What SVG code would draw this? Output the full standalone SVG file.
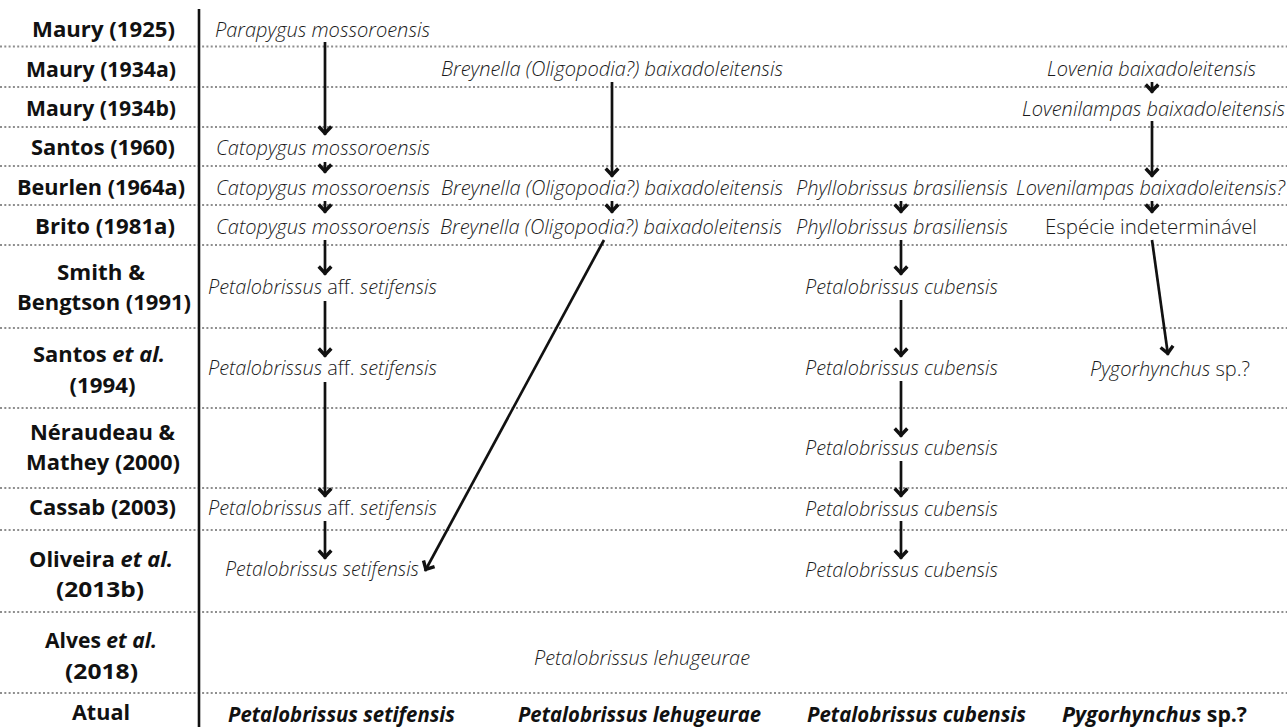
<svg xmlns="http://www.w3.org/2000/svg" width="1287" height="727" viewBox="0 0 1287 727">
  <style>
    .sep { stroke: #8e8e8e; stroke-width: 2.2; stroke-dasharray: 2 2.3; fill: none; }
    .axis { stroke: #111; stroke-width: 2.6; fill: none; }
    .ref { font-family: "Open Sans", "Liberation Sans", sans-serif; font-weight: 700; font-size: 21px; fill: #111; text-anchor: middle; }
    .sp { font-family: "Open Sans", "Liberation Sans", sans-serif; font-weight: 320; font-style: italic; font-size: 19.5px; fill: #1a1a1a; }
    .up { font-style: normal; }
    .now { font-family: "Open Sans", "Liberation Sans", sans-serif; font-weight: 700; font-style: italic; font-size: 21px; fill: #111; }
    .link { stroke: #111; stroke-width: 2.7; fill: none; marker-end: url(#head); }
  </style>
  <defs>
    <marker id="head" markerUnits="userSpaceOnUse" markerWidth="20" markerHeight="20" refX="0" refY="0" viewBox="-12 -10 16 20" orient="auto" overflow="visible">
      <path d="M-8.5,-6.3 L-1.8,0 L-8.5,6.3" fill="none" stroke="#111" stroke-width="3.4" stroke-linejoin="miter"/>
    </marker>
  </defs>
  <rect width="1287" height="727" fill="#ffffff"/>

  <!-- row separators and the reference axis -->
  <g id="grid">
    <line class="sep" x1="0" y1="46.5" x2="1287" y2="46.5"/>
    <line class="sep" x1="0" y1="87" x2="1287" y2="87"/>
    <line class="sep" x1="0" y1="127" x2="1287" y2="127"/>
    <line class="sep" x1="0" y1="166" x2="1287" y2="166"/>
    <line class="sep" x1="0" y1="205" x2="1287" y2="205"/>
    <line class="sep" x1="0" y1="245" x2="1287" y2="245"/>
    <line class="sep" x1="0" y1="328" x2="1287" y2="328"/>
    <line class="sep" x1="0" y1="408" x2="1287" y2="408"/>
    <line class="sep" x1="0" y1="488" x2="1287" y2="488"/>
    <line class="sep" x1="0" y1="530" x2="1287" y2="530"/>
    <line class="sep" x1="0" y1="612" x2="1287" y2="612"/>
    <line class="sep" x1="0" y1="693" x2="1287" y2="693"/>
    <line class="axis" x1="199" y1="9" x2="199" y2="727"/>
  </g>

  <!-- reference column -->
  <g id="references">
    <text id="ref-maury1925" class="ref" x="103.5" y="37" textLength="143" lengthAdjust="spacingAndGlyphs">Maury (1925)</text>
    <text id="ref-maury1934a" class="ref" x="101" y="77" textLength="150" lengthAdjust="spacingAndGlyphs">Maury (1934a)</text>
    <text id="ref-maury1934b" class="ref" x="101" y="116" textLength="150" lengthAdjust="spacingAndGlyphs">Maury (1934b)</text>
    <text id="ref-santos1960" class="ref" x="103" y="155" textLength="144" lengthAdjust="spacingAndGlyphs">Santos (1960)</text>
    <text id="ref-beurlen1964a" class="ref" x="101" y="195" textLength="168" lengthAdjust="spacingAndGlyphs">Beurlen (1964a)</text>
    <text id="ref-brito1981a" class="ref" x="105" y="234" textLength="140" lengthAdjust="spacingAndGlyphs">Brito (1981a)</text>
    <g id="ref-smith1991">
      <text class="ref" x="101" y="280" textLength="88" lengthAdjust="spacingAndGlyphs">Smith &amp;</text>
      <text class="ref" x="104" y="310" textLength="174" lengthAdjust="spacingAndGlyphs">Bengtson (1991)</text>
    </g>
    <g id="ref-santos1994">
      <text class="ref" x="99" y="362" textLength="132" lengthAdjust="spacingAndGlyphs">Santos <tspan font-style="italic">et al.</tspan></text>
      <text class="ref" x="102.5" y="393" textLength="66" lengthAdjust="spacingAndGlyphs">(1994)</text>
    </g>
    <g id="ref-neraudeau2000">
      <text class="ref" x="102.5" y="440" textLength="145" lengthAdjust="spacingAndGlyphs">Néraudeau &amp;</text>
      <text class="ref" x="103" y="470" textLength="154" lengthAdjust="spacingAndGlyphs">Mathey (2000)</text>
    </g>
    <text id="ref-cassab2003" class="ref" x="102.5" y="515" textLength="147" lengthAdjust="spacingAndGlyphs">Cassab (2003)</text>
    <g id="ref-oliveira2013b">
      <text class="ref" x="101" y="567" textLength="144" lengthAdjust="spacingAndGlyphs">Oliveira <tspan font-style="italic">et al.</tspan></text>
      <text class="ref" x="100" y="597" textLength="88" lengthAdjust="spacingAndGlyphs">(2013b)</text>
    </g>
    <g id="ref-alves2018">
      <text class="ref" x="101" y="648" textLength="112" lengthAdjust="spacingAndGlyphs">Alves <tspan font-style="italic">et al.</tspan></text>
      <text class="ref" x="101.5" y="679" textLength="73" lengthAdjust="spacingAndGlyphs">(2018)</text>
    </g>
    <text id="ref-atual" class="ref" x="101" y="720" textLength="58" lengthAdjust="spacingAndGlyphs">Atual</text>
  </g>

  <!-- taxa, first lineage -->
  <g id="parapygus-1925"><text class="sp" x="215" y="37" textLength="215" lengthAdjust="spacingAndGlyphs">Parapygus mossoroensis</text></g>
  <g id="catopygus-1960"><text class="sp" x="216" y="155" textLength="214" lengthAdjust="spacingAndGlyphs">Catopygus mossoroensis</text></g>
  <g id="catopygus-1964a"><text class="sp" x="216" y="195" textLength="214" lengthAdjust="spacingAndGlyphs">Catopygus mossoroensis</text></g>
  <g id="catopygus-1981a"><text class="sp" x="216" y="234" textLength="214" lengthAdjust="spacingAndGlyphs">Catopygus mossoroensis</text></g>
  <g id="petalo-aff-1991"><text class="sp" x="208" y="294" textLength="229" lengthAdjust="spacingAndGlyphs">Petalobrissus <tspan class="up">aff.</tspan> setifensis</text></g>
  <g id="petalo-aff-1994"><text class="sp" x="208" y="375" textLength="229" lengthAdjust="spacingAndGlyphs">Petalobrissus <tspan class="up">aff.</tspan> setifensis</text></g>
  <g id="petalo-aff-2003"><text class="sp" x="208" y="515" textLength="229" lengthAdjust="spacingAndGlyphs">Petalobrissus <tspan class="up">aff.</tspan> setifensis</text></g>
  <g id="petalo-setifensis-2013b"><text class="sp" x="225" y="576" textLength="194" lengthAdjust="spacingAndGlyphs">Petalobrissus setifensis</text></g>

  <!-- taxa, second lineage -->
  <g id="breynella-1934a"><text class="sp" x="441" y="76" textLength="342" lengthAdjust="spacingAndGlyphs">Breynella (Oligopodia?) baixadoleitensis</text></g>
  <g id="breynella-1964a"><text class="sp" x="441" y="195" textLength="342" lengthAdjust="spacingAndGlyphs">Breynella (Oligopodia?) baixadoleitensis</text></g>
  <g id="breynella-1981a"><text class="sp" x="440" y="234" textLength="342" lengthAdjust="spacingAndGlyphs">Breynella (Oligopodia?) baixadoleitensis</text></g>
  <g id="lehugeurae-2018"><text class="sp" x="534" y="665" textLength="216" lengthAdjust="spacingAndGlyphs">Petalobrissus lehugeurae</text></g>

  <!-- taxa, third lineage -->
  <g id="phyllobrissus-1964a"><text class="sp" x="796" y="195" textLength="212" lengthAdjust="spacingAndGlyphs">Phyllobrissus brasiliensis</text></g>
  <g id="phyllobrissus-1981a"><text class="sp" x="796" y="234" textLength="212" lengthAdjust="spacingAndGlyphs">Phyllobrissus brasiliensis</text></g>
  <g id="cubensis-1991"><text class="sp" x="805" y="294" textLength="193" lengthAdjust="spacingAndGlyphs">Petalobrissus cubensis</text></g>
  <g id="cubensis-1994"><text class="sp" x="805" y="375" textLength="193" lengthAdjust="spacingAndGlyphs">Petalobrissus cubensis</text></g>
  <g id="cubensis-2000"><text class="sp" x="805" y="455" textLength="193" lengthAdjust="spacingAndGlyphs">Petalobrissus cubensis</text></g>
  <g id="cubensis-2003"><text class="sp" x="805" y="516" textLength="193" lengthAdjust="spacingAndGlyphs">Petalobrissus cubensis</text></g>
  <g id="cubensis-2013b"><text class="sp" x="805" y="577" textLength="193" lengthAdjust="spacingAndGlyphs">Petalobrissus cubensis</text></g>

  <!-- taxa, fourth lineage -->
  <g id="lovenia-1934a"><text class="sp" x="1047" y="76" textLength="209" lengthAdjust="spacingAndGlyphs">Lovenia baixadoleitensis</text></g>
  <g id="lovenilampas-1934b"><text class="sp" x="1022" y="116" textLength="263" lengthAdjust="spacingAndGlyphs">Lovenilampas baixadoleitensis</text></g>
  <g id="lovenilampas-1964a"><text class="sp" x="1016" y="195" textLength="269" lengthAdjust="spacingAndGlyphs">Lovenilampas baixadoleitensis?</text></g>
  <g id="indeterminada-1981a"><text class="sp up" x="1045" y="234" textLength="212" lengthAdjust="spacingAndGlyphs">Espécie indeterminável</text></g>
  <g id="pygorhynchus-1994"><text class="sp" x="1090" y="376" textLength="160" lengthAdjust="spacingAndGlyphs">Pygorhynchus <tspan class="up">sp.?</tspan></text></g>

  <!-- current names -->
  <g id="now-setifensis"><text class="now" x="228" y="722" textLength="227" lengthAdjust="spacingAndGlyphs">Petalobrissus setifensis</text></g>
  <g id="now-lehugeurae"><text class="now" x="518" y="722" textLength="243" lengthAdjust="spacingAndGlyphs">Petalobrissus lehugeurae</text></g>
  <g id="now-cubensis"><text class="now" x="807" y="722" textLength="219" lengthAdjust="spacingAndGlyphs">Petalobrissus cubensis</text></g>
  <g id="now-pygorhynchus"><text class="now" x="1062" y="722" textLength="185" lengthAdjust="spacingAndGlyphs">Pygorhynchus <tspan font-style="normal">sp.?</tspan></text></g>

  <!-- name changes -->
  <g id="connectors">
    <line class="link" x1="325" y1="42" x2="325" y2="135"/>
    <line class="link" x1="325" y1="162" x2="325" y2="173"/>
    <line class="link" x1="325" y1="201" x2="325" y2="213"/>
    <line class="link" x1="325" y1="240" x2="325" y2="275"/>
    <line class="link" x1="325" y1="301" x2="325" y2="357"/>
    <line class="link" x1="325" y1="382" x2="325" y2="497"/>
    <line class="link" x1="325" y1="521" x2="325" y2="559"/>

    <line class="link" x1="612" y1="82" x2="612" y2="177"/>
    <line class="link" x1="612" y1="201" x2="612" y2="213"/>
    <line class="link" x1="604" y1="240" x2="425" y2="571"/>

    <line class="link" x1="901" y1="201" x2="901" y2="213"/>
    <line class="link" x1="901" y1="240" x2="901" y2="275"/>
    <line class="link" x1="901" y1="300" x2="901" y2="357"/>
    <line class="link" x1="901" y1="381" x2="901" y2="437"/>
    <line class="link" x1="901" y1="461" x2="901" y2="497"/>
    <line class="link" x1="901" y1="521" x2="901" y2="559"/>

    <line class="link" x1="1152" y1="82" x2="1152" y2="93"/>
    <line class="link" x1="1152" y1="121" x2="1152" y2="177"/>
    <line class="link" x1="1152" y1="201" x2="1152" y2="213"/>
    <line class="link" x1="1152" y1="240" x2="1168" y2="355"/>
  </g>
</svg>
